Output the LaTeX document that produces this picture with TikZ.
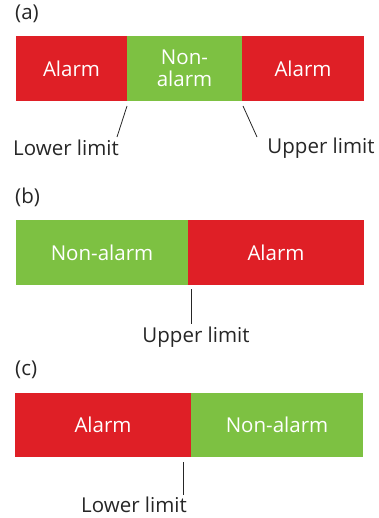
\documentclass[tikz,border=0pt]{standalone}
\usepackage{fontspec}
\setmainfont{Open Sans}
\definecolor{alarmred}{HTML}{DF1F26}
\definecolor{okgreen}{HTML}{7DC142}
\begin{document}
\begin{tikzpicture}[x=1pt,y=-1pt,
  seg/.style={anchor=north west,inner sep=0pt,outer sep=0pt,text=white,align=center,font=\fontsize{20.5}{22}\selectfont},
  red/.style={seg,fill=alarmred},
  green/.style={seg,fill=okgreen},
  lab/.style={inner sep=0pt,font=\fontsize{20.5}{22}\selectfont,text=black!85},
  tick/.style={draw=black!85,line width=0.8pt}]
\useasboundingbox (0,0) rectangle (379,518);
% (a)
\node[lab,anchor=west] (pa) at (15,14) {(a)};
\node[red,minimum width=111,minimum height=65] (a1) at (16,36) {Alarm};
\node[green,minimum width=115,minimum height=65] (a2) at (127,36) {Non-\\alarm};
\node[red,minimum width=122,minimum height=65] (a3) at (242,36) {Alarm};
\node[lab] (lo) at (66,148) {Lower limit};
\node[lab] (up) at (321,148) {Upper limit};
\coordinate (la1) at (127,106); \coordinate (la2) at (117,137);
\coordinate (ua1) at (243,106); \coordinate (ua2) at (257,137);
\draw[tick] (la1) -- (la2);
\draw[tick] (ua1) -- (ua2);
% (b)
\node[lab,anchor=west] (pb) at (15,197) {(b)};
\node[green,minimum width=172,minimum height=65] (b1) at (16,220) {Non-alarm};
\node[red,minimum width=176,minimum height=65] (b2) at (188,220) {Alarm};
\node[lab] (ub) at (196,337) {Upper limit};
\coordinate (lb1) at (191,289); \coordinate (lb2) at (191,324);
\draw[tick] (lb1) -- (lb2);
% (c)
\node[lab,anchor=west] (pc) at (15,370) {(c)};
\node[red,minimum width=176,minimum height=64] (c1) at (15,393) {Alarm};
\node[green,minimum width=172,minimum height=64] (c2) at (191,393) {Non-alarm};
\node[lab] (lc) at (134,505) {Lower limit};
\coordinate (lcc1) at (183,462); \coordinate (lcc2) at (183,495);
\draw[tick] (lcc1) -- (lcc2);
\end{tikzpicture}
\end{document}
